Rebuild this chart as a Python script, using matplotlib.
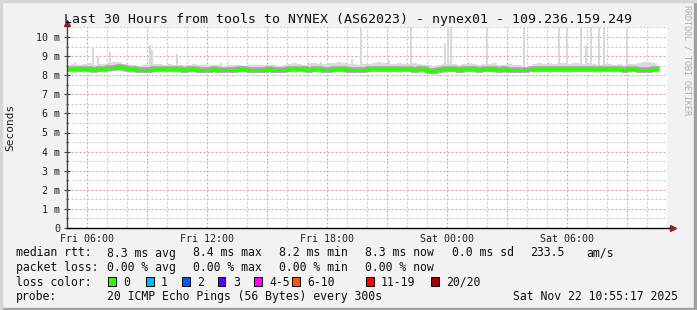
import numpy as np
import matplotlib
matplotlib.use('Agg')
import matplotlib.pyplot as plt
from matplotlib.patches import Rectangle

plt.rcParams['font.family'] = ['DejaVu Sans Mono']
plt.rcParams['lines.scale_dashes'] = False

W, H = 697, 310

# samples every 15 min starting Fri 05:00 (hours since Fri 00:00)
sample_start = 5.0
sample_step = 0.25

median = [
    8.31, 8.30, 8.33, 8.35, 8.32, 8.29, 8.31, 8.34, 8.36, 8.40,
    8.45, 8.38, 8.33, 8.31, 8.27, 8.26, 8.28, 8.33, 8.34, 8.32,
    8.33, 8.30, 8.31, 8.28, 8.30, 8.32, 8.29, 8.27, 8.28, 8.30,
    8.29, 8.28, 8.27, 8.29, 8.30, 8.31, 8.28, 8.26, 8.27, 8.29,
    8.30, 8.28, 8.27, 8.29, 8.31, 8.30, 8.32, 8.30, 8.29, 8.31,
    8.30, 8.28, 8.29, 8.31, 8.32, 8.30, 8.29, 8.28, 8.27, 8.29,
    8.32, 8.31, 8.33, 8.32, 8.30, 8.31, 8.30, 8.33, 8.32, 8.29,
    8.31, 8.30, 8.24, 8.22, 8.25, 8.30, 8.31, 8.32, 8.29, 8.30,
    8.31, 8.30, 8.29, 8.31, 8.33, 8.31, 8.29, 8.30, 8.28, 8.27,
    8.28, 8.27, np.nan, 8.30, 8.31, 8.32, 8.30, 8.31, 8.33, 8.31,
    8.30, 8.32, 8.31, 8.33, 8.32, 8.31, 8.30, 8.31, 8.32, 8.30,
    8.31, 8.29, 8.30, 8.31, 8.26, 8.25, 8.29, 8.32, 8.33,
]

smoke_hi = [
    8.55, 8.58, 8.52, 8.60, 8.62, 8.55, 8.57, 8.60, 8.66, 8.70,
    8.68, 8.58, 8.55, 8.53, 8.50, 8.52, 8.55, 8.60, 8.57, 8.55,
    8.58, 8.54, 8.56, 8.52, 8.55, 8.57, 8.53, 8.52, 8.55, 8.53,
    8.52, 8.50, 8.53, 8.55, 8.52, 8.50, 8.52, 8.55, 8.53, 8.51,
    8.55, 8.52, 8.50, 8.53, 8.60, 8.62, 8.58, 8.56, 8.62, 8.65,
    8.60, 8.58, 8.62, 8.66, 8.70, 8.62, 8.58, 8.60, 8.55, 8.57,
    8.60, 8.66, 8.70, 8.62, 8.58, 8.60, 8.64, 8.60, 8.58, 8.62,
    8.60, 8.55, 8.52, 8.50, 8.55, 8.60, 8.63, 8.58, 8.55, 8.57,
    8.62, 8.58, 8.55, 8.60, 8.58, 8.62, 8.56, 8.55, 8.58, 8.54,
    8.52, 8.55, np.nan, 8.60, 8.62, 8.58, 8.65, 8.60, 8.62, 8.66,
    8.60, 8.64, 8.62, 8.58, 8.62, 8.60, 8.55, 8.58, 8.60, 8.56,
    8.58, 8.55, 8.57, 8.60, 8.62, 8.68, 8.70, 8.66, 8.62,
]

smoke_lo = [
    8.15, 8.13, 8.16, 8.14, 8.12, 8.15, 8.16, 8.13, 8.18, 8.20,
    8.22, 8.17, 8.14, 8.12, 8.10, 8.11, 8.13, 8.15, 8.16, 8.14,
    8.15, 8.13, 8.14, 8.12, 8.13, 8.15, 8.12, 8.11, 8.12, 8.13,
    8.13, 8.12, 8.10, 8.12, 8.14, 8.15, 8.12, 8.10, 8.11, 8.13,
    8.14, 8.12, 8.11, 8.13, 8.15, 8.14, 8.16, 8.13, 8.12, 8.15,
    8.14, 8.12, 8.13, 8.15, 8.16, 8.14, 8.13, 8.12, 8.11, 8.13,
    8.16, 8.15, 8.17, 8.15, 8.14, 8.15, 8.13, 8.16, 8.15, 8.12,
    8.14, 8.13, 8.08, 8.06, 8.09, 8.13, 8.15, 8.16, 8.12, 8.13,
    8.15, 8.14, 8.12, 8.15, 8.16, 8.14, 8.12, 8.13, 8.11, 8.10,
    8.12, 8.11, np.nan, 8.14, 8.15, 8.16, 8.13, 8.15, 8.16, 8.14,
    8.13, 8.16, 8.15, 8.16, 8.15, 8.14, 8.13, 8.15, 8.16, 8.14,
    8.15, 8.12, 8.13, 8.15, 8.10, 8.09, 8.12, 8.15, 8.16,
]

# single slow pings (hours since Fri 00:00, ms)
spike_hours = [5.38, 6.28, 6.53, 7.13, 9.13, 9.23, 10.48, 12.68, 17.08, 17.68,
               19.23, 19.68, 21.08, 22.18, 23.88, 24.03, 24.18, 25.98, 27.83,
               29.58, 29.98, 30.68, 30.93, 31.18, 31.58, 31.83, 32.98]
spike_ms = [8.7, 9.5, 8.95, 9.2, 9.6, 9.3, 9.1, 8.65, 8.6, 8.7,
            8.85, 11.0, 8.8, 11.0, 9.7, 11.0, 11.0, 11.0, 11.0,
            11.0, 11.0, 11.0, 9.6, 11.0, 11.0, 11.0, 10.4]

x_ticks = [6, 12, 18, 24, 30]
x_labels = ['Fri 06:00', 'Fri 12:00', 'Fri 18:00', 'Sat 00:00', 'Sat 06:00']
y_ticks = list(range(0, 11))
y_labels = ['0'] + ['%d m' % v for v in range(1, 11)]

title = 'Last 30 Hours from tools to NYNEX (AS62023) - nynex01 - 109.236.159.249'

rtt_parts = ['median rtt:', '8.3 ms avg', '8.4 ms max', '8.2 ms min',
             '8.3 ms now', '0.0 ms sd', '233.5', 'am/s']
loss_parts = ['packet loss:', '0.00 % avg', '0.00 % max', '0.00 % min', '0.00 % now']
loss_names = ['0', '1', '2', '3', '4-5', '6-10', '11-19', '20/20']
loss_colors = ['#26ff00', '#00b8ff', '#0059ff', '#5e00ff',
               '#ff00ff', '#ff5500', '#ff0000', '#a00000']
probe_text = '20 ICMP Echo Pings (56 Bytes) every 300s'
stamp = 'Sat Nov 22 10:55:17 2025'


def fx(px):
    return px / W


def fy(py):
    return 1 - py / H


fig = plt.figure(figsize=(W / 100, H / 100), dpi=100, facecolor='#f2f2f2')

# frame
fig.patches.append(Rectangle((0, 0), 1, 2 / H, transform=fig.transFigure, color='#a0a0a0'))
fig.patches.append(Rectangle((1 - 3 / W, 0), 3 / W, 1, transform=fig.transFigure, color='#a0a0a0'))
fig.patches.append(Rectangle((0, 1 - 2 / H), 1, 2 / H, transform=fig.transFigure, color='#d6d6d6'))
fig.patches.append(Rectangle((0, 0), 2 / W, 1, transform=fig.transFigure, color='#d6d6d6'))

x0 = 4.98
ax = fig.add_axes([fx(67), fy(228), 600 / W, 201 / H])
ax.set_facecolor('white')
ax.set_xlim(x0, x0 + 30)
ax.set_ylim(0, 201 / 19.1)

red = '#e49a9a'
gray = '#c4c4c4'
dots = (0, (1.44, 1.44))
for h in range(5, 35):
    ax.axvline(h, color=red if h % 3 == 0 else gray, ls=dots,
               lw=0.72, zorder=0.5)
for v in np.arange(0.5, 10.51, 0.5):
    ax.axhline(v, color=red if v % 1 == 0 else gray, ls=dots,
               lw=0.72, zorder=0.5)

t = sample_start + sample_step * np.arange(len(median))
ax.fill_between(t, smoke_lo, smoke_hi, step='post', color='#dadada', lw=0, zorder=1)
ax.bar(spike_hours, np.array(spike_ms) - 8.4, bottom=8.4, width=0.12,
       color='#d8d8d8', zorder=1)
ax.step(t, median, where='post', color='#a6a6a6', lw=4.0, zorder=2)
ax.step(t, median, where='post', color='#26ff00', lw=2.1, zorder=3)

for s in ax.spines.values():
    s.set_visible(False)

# axes with arrows
ax.plot([x0, x0], [0, 10.7], color='#404040', lw=1, clip_on=False, zorder=5)
ax.plot([x0, x0 + 30.25], [0, 0], color='black', lw=1, clip_on=False, zorder=5)
ax.plot([x0], [10.72], marker='^', ms=5, color='#902020', clip_on=False, zorder=6)
ax.plot([x0 + 30.3], [0], marker='>', ms=5, color='#902020', clip_on=False, zorder=6)

ax.set_xticks(x_ticks)
ax.set_xticklabels(x_labels)
ax.set_yticks(y_ticks)
ax.set_yticklabels(y_labels)
ax.set_yticks(np.arange(0.5, 10.5, 1.0), minor=True)
ax.set_xticks([], minor=True)
ax.tick_params(axis='x', length=0, pad=4, labelsize=7.2, colors='#202020')
ax.tick_params(axis='y', which='major', direction='inout', length=4, width=0.8,
               color='#404040', pad=3, labelsize=7.2, labelcolor='#202020')
ax.tick_params(axis='y', which='minor', direction='inout', length=2, width=0.8,
               color='#404040')

fig.text(fx(348), fy(19), title, ha='center', va='center', fontsize=9.5, color='#101010')
fig.text(fx(10), fy(127), 'Seconds', rotation=90, ha='center', va='center',
         fontsize=8, color='#202020')
fig.text(fx(687), fy(60), 'RRDTOOL / TOBI OETIKER', rotation=270, ha='center',
         va='center', fontsize=6, color='#b0b0b0')

fs = 8.3
rtt_x = [16, 107, 193, 279, 365, 452, 530, 586]
for s, px in zip(rtt_parts, rtt_x):
    fig.text(fx(px), fy(256.5), s, fontsize=fs, va='baseline', color='#101010')
loss_x = [16, 107, 193, 279, 365]
for s, px in zip(loss_parts, loss_x):
    fig.text(fx(px), fy(271), s, fontsize=fs, va='baseline', color='#101010')

fig.text(fx(16), fy(285.5), 'loss color:', fontsize=fs, va='baseline', color='#101010')
box_x = [108, 146, 182, 218, 254, 292, 366, 431]
for name, c, px in zip(loss_names, loss_colors, box_x):
    fig.patches.append(Rectangle((fx(px), fy(285.5)), 7.5 / W, 8.5 / H,
                                 transform=fig.transFigure, facecolor=c,
                                 edgecolor='black', lw=0.7))
    fig.text(fx(px + 15), fy(285.5), name, fontsize=fs, va='baseline', color='#101010')

fig.text(fx(16), fy(300), 'probe:', fontsize=fs, va='baseline', color='#101010')
fig.text(fx(107), fy(300), probe_text, fontsize=fs, va='baseline', color='#101010')
fig.text(fx(513), fy(300), stamp, fontsize=fs, va='baseline', color='#101010')

fig.savefig('out.png', dpi=100, facecolor=fig.get_facecolor())
